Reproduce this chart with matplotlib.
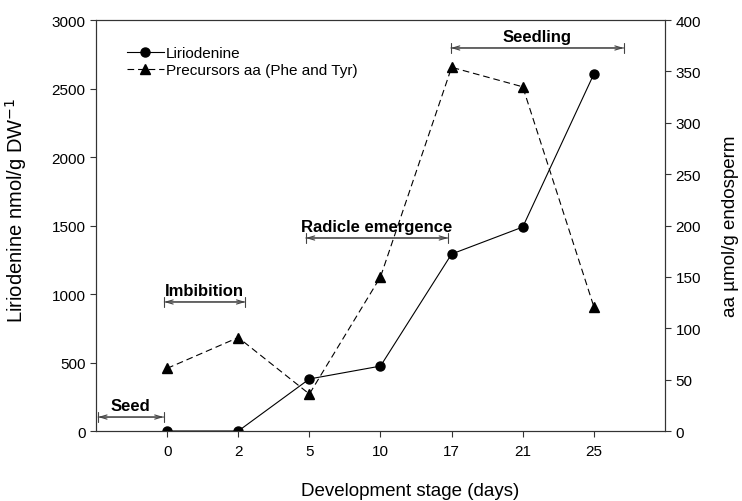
import matplotlib
matplotlib.use("Agg")
import matplotlib.pyplot as plt
import numpy as np

plt.rcParams['font.family'] = ['Liberation Sans', 'DejaVu Sans']

days = ["0", "2", "5", "10", "17", "21", "25"]
liriodenine = [0, 0, 380, 474, 1292, 1489, 2606]
precursors = [61, 91, 36, 150, 354, 335, 121]

# stage brackets: (label, x start, x end, y on left axis)
stages = [
    ("Seed", -0.97, -0.05, 102),
    ("Imbibition", -0.04, 1.1, 942),
    ("Radicle emergence", 1.95, 3.95, 1409),
    ("Seedling", 3.99, 6.42, 2796),
]

fig = plt.figure(figsize=(7.42, 5.02), dpi=100)
ax = fig.add_axes([0.1294, 0.1394, 0.7668, 0.8187])
ax2 = ax.twinx()

x = np.arange(len(days))
l1, = ax.plot(x, liriodenine, color='black', lw=0.8, marker='o', ms=6.5,
              label='Liriodenine', zorder=3)
l2, = ax2.plot(x, precursors, color='black', lw=0.8, marker='^', ms=7,
               dashes=(6, 3.5), label='Precursors aa (Phe and Tyr)', zorder=3)

ax.set_xlim(-1, 7)
ax.set_ylim(0, 3000)
ax2.set_ylim(0, 400)
ax.set_xticks(x)
ax.set_xticklabels(days)
ax.set_yticks(np.arange(0, 3001, 500))
ax2.set_yticks(np.arange(0, 401, 50))

for a in (ax, ax2):
    a.tick_params(direction='out', length=4, width=0.8, labelsize=11, color='#333333')
    for s in a.spines.values():
        s.set_linewidth(0.8)
        s.set_color('#333333')
ax.tick_params(axis='x', pad=5)

ax.set_xlabel('Development stage (days)', fontsize=13.5)
ax.xaxis.set_label_coords(0.552, -0.123)
ax.set_ylabel('Liriodenine nmol/g DW$^{-1}$', fontsize=14.5)
ax.yaxis.set_label_coords(-0.118, 0.54)
ax2.set_ylabel('aa µmol/g endosperm', fontsize=13.5, labelpad=15)

for label, xs, xe, yv in stages:
    ax.annotate('', xy=(xs, yv), xytext=(xe, yv),
                arrowprops=dict(arrowstyle='<->,head_length=0.5,head_width=0.15',
                                color='#444444', lw=0.8, shrinkA=0, shrinkB=0))
    ax.annotate('', xy=(xs, yv), xytext=(xe, yv),
                arrowprops=dict(arrowstyle='|-|,widthA=0.35,widthB=0.35',
                                color='#444444', lw=0.8, shrinkA=0, shrinkB=0))
    ax.text((xs + xe) / 2, yv + 30, label, ha='center', va='bottom',
            fontsize=12, fontweight='bold')

ax2.legend(handles=[l1, l2], loc='upper left', bbox_to_anchor=(0.03, 0.97),
           frameon=False, fontsize=11, handlelength=2.4, handletextpad=0.15,
           labelspacing=0.2)

fig.savefig('out.png', dpi=100)
